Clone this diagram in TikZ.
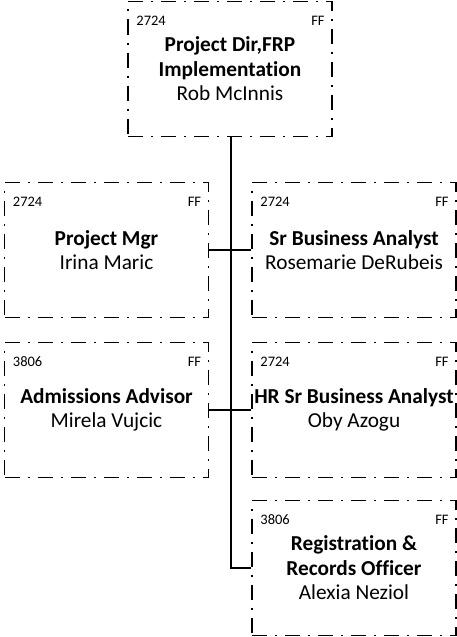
\documentclass[tikz,border=0pt]{standalone}
\usepackage{fontspec}
\setmainfont{Carlito}[Ligatures=NoCommon]
\begin{document}
\begin{tikzpicture}[
	x=1pt, y=-1pt,
	unit/.style={ rectangle, draw, line width=1.6pt, dash pattern=on 15pt off 8pt on 2pt off 8pt, minimum width=204pt, minimum height=135pt, inner sep=0pt, align=center, font=\fontsize{21.3}{24.5}\selectfont },
	code/.style={ inner sep=0pt, anchor=west, font=\fontsize{14.5}{16}\selectfont },
	link/.style={ line width=1.6pt }
]

\useasboundingbox (0,0) rectangle (457,637);

\node at (230,69) (dir) [unit] {\textbf{Project Dir,FRP}\\\textbf{Implementation}\\Rob McInnis};
\node at (106.5,250) (pm) [unit] {\textbf{Project Mgr}\\Irina Maric};
\node at (354,250) (sba) [unit] {\textbf{Sr Business Analyst}\\Rosemarie DeRubeis};
\node at (106.5,410) (aa) [unit] {\textbf{Admissions Advisor}\\Mirela Vujcic};
\node at (354,410) (hr) [unit] {\textbf{HR Sr Business Analyst}\\Oby Azogu};
\node at (354,568) (reg) [unit] {\textbf{Registration \&}\\\textbf{Records Officer}\\Alexia Neziol};

\node at ([xshift=9pt,yshift=-20pt]dir.north west) (dirc) [code] {2724};
\node at ([xshift=-8pt,yshift=-20pt]dir.north east) (dirf) [code,anchor=east] {FF};
\node at ([xshift=9pt,yshift=-20pt]pm.north west) (pmc) [code] {2724};
\node at ([xshift=-8pt,yshift=-20pt]pm.north east) (pmf) [code,anchor=east] {FF};
\node at ([xshift=9pt,yshift=-20pt]sba.north west) (sbac) [code] {2724};
\node at ([xshift=-8pt,yshift=-20pt]sba.north east) (sbaf) [code,anchor=east] {FF};
\node at ([xshift=9pt,yshift=-20pt]aa.north west) (aac) [code] {3806};
\node at ([xshift=-8pt,yshift=-20pt]aa.north east) (aaf) [code,anchor=east] {FF};
\node at ([xshift=9pt,yshift=-20pt]hr.north west) (hrc) [code] {2724};
\node at ([xshift=-8pt,yshift=-20pt]hr.north east) (hrf) [code,anchor=east] {FF};
\node at ([xshift=9pt,yshift=-20pt]reg.north west) (regc) [code] {3806};
\node at ([xshift=-8pt,yshift=-20pt]reg.north east) (regf) [code,anchor=east] {FF};

\draw[link] ([xshift=1pt]dir.south) |- (reg.west);
\draw[link] (pm.east) -- (sba.west);
\draw[link] (aa.east) -- (hr.west);

\end{tikzpicture}
\end{document}
